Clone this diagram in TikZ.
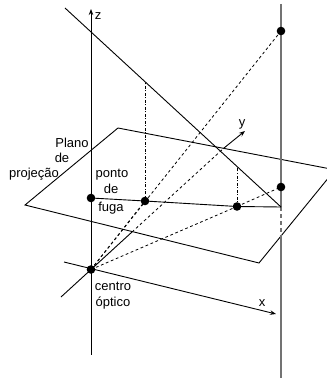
\documentclass[tikz,border=0pt]{standalone}
\usepackage{fontspec}
\setmainfont{Liberation Sans}
\usetikzlibrary{arrows.meta,backgrounds}
\tikzset{
  ln/.style={line width=0.9pt,black},
  hid/.style={line width=0.8pt,black,dash pattern=on 2.8pt off 2.6pt},
  dashd/.style={line width=0.8pt,black,dash pattern=on 3pt off 1.5pt on 1pt off 1.5pt},
  grayln/.style={line width=1.5pt,black!55},
  graydash/.style={line width=1.5pt,black!55,dash pattern=on 4pt off 3pt},
  pt/.style={circle,fill=black,inner sep=0pt,minimum size=8.6pt},
  lab/.style={font=\fontsize{13}{13}\selectfont,inner sep=0pt,anchor=base},
  tip/.style={-{Stealth[length=6pt,width=4.5pt]}}
}
\begin{document}
\begin{tikzpicture}[x=1pt,y=-1pt]
\useasboundingbox (0,0) rectangle (326,379);
\clip (0,0) rectangle (326,379);
% named points
\coordinate (ztop) at (91,9);
\coordinate (zbot) at (91,355);
\coordinate (zin) at (91,222);
\coordinate (rtop) at (281,4);
\coordinate (rbot) at (281,378);
\coordinate (rin) at (281,238);
\coordinate (lstart) at (65,8);
\coordinate (vanr) at (281,207);
\coordinate (pa) at (118,128);
\coordinate (pb) at (335,169.8);
\coordinate (pc) at (259,263);
\coordinate (pd) at (25,205);
\coordinate (ys) at (61,297);
\coordinate (yin) at (132,232);
\coordinate (yout) at (224,148);
\coordinate (ye) at (245,131);
\coordinate (xs) at (64,262);
\coordinate (xe) at (276,314);
\coordinate (t1) at (145,83);
\coordinate (t2) at (237,168);
% points
\node[pt] (o) at (91,269.5) {};
\node[pt] (f) at (91,198) {};
\node[pt] (m1) at (145,201) {};
\node[pt] (m2) at (237,206.5) {};
\node[pt] (r1) at (281,187) {};
\node[pt] (r2) at (281,31) {};
\begin{scope}[on background layer]
% plane
\draw[ln,line join=miter] (pa) -- (pb) -- (pc) -- (pd) -- cycle;
% axes
\draw[grayln] (rtop) -- (vanr);
\draw[graydash] (vanr) -- (rin);
\draw[grayln] (rin) -- (rbot);
\draw[ln,tip] (zin) -- (ztop);
\draw[ln] (zin) -- (zbot);
\draw[hid] (f.center) -- (zin);
\draw[ln] (ys) -- (yin);
\draw[hid] (yin) -- (yout);
\draw[ln,tip] (yout) -- (ye);
\draw[ln,tip] (xs) -- (xe);
% lines
\draw[ln] (lstart) -- (vanr);
\draw[ln] (f.center) -- (m1.center) -- (m2.center) -- (vanr);
\draw[hid] (o.center) -- (r2.center);
\draw[hid] (o.center) -- (m1.center);
\draw[hid] (o.center) -- (m2.center);
\draw[hid] (m2.center) -- (r1.center);
\draw[dashd] (m1.center) -- (t1);
\draw[dashd] (m2.center) -- (t2);
\end{scope}
% labels
\node[lab] (l1) at (72,148) {Plano};
\node[lab] (l2) at (62,163) {de};
\node[lab] (l3) at (34,177) {projeção};
\node[lab] (l4) at (112,177) {ponto};
\node[lab] (l5) at (111,193) {de};
\node[lab] (l6) at (111,211) {fuga};
\node[lab] (l7) at (113,290) {centro};
\node[lab] (l8) at (113,306) {óptico};
\node[lab] (lx) at (262,306) {x};
\node[lab] (ly) at (242,127) {y};
\node[lab] (lz) at (98,20) {z};
\end{tikzpicture}
\end{document}
